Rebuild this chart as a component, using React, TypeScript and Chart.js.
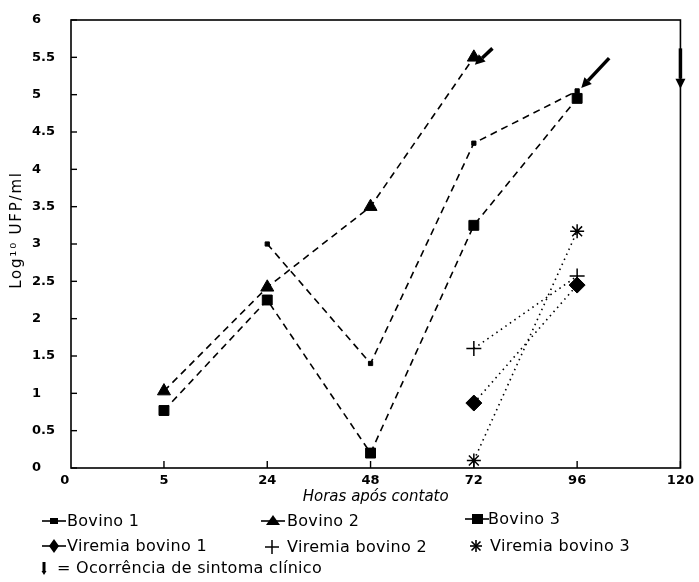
import React, { useEffect, useRef } from 'react';
import { Chart, registerables } from 'chart.js';

Chart.register(...registerables);

// ---- data ----
const HOURS = ['0', '5', '24', '48', '72', '96', '120'];
const BOVINO_1 = [null, null, 3.0, 1.4, 4.35, 5.05, null];
const BOVINO_2 = [null, 1.03, 2.42, 3.5, 5.5, null, null];
const BOVINO_3 = [null, 0.77, 2.25, 0.2, 3.25, 4.95, null];
const VIREMIA_1 = [null, null, null, null, 0.87, 2.45, null];
const VIREMIA_2 = [null, null, null, null, 1.6, 2.57, null];
const VIREMIA_3 = [null, null, null, null, 0.1, 3.17, null];
const Y_MIN = 0;
const Y_MAX = 6;
const Y_STEP = 0.5;
const Y_TITLE = 'Log¹⁰ UFP/ml';
// clinical symptom arrows (hour index, log value): tail -> head
const ARROWS = [
  { from: [4.18, 5.62], to: [4.01, 5.4] },
  { from: [5.31, 5.49], to: [5.04, 5.09] },
  { from: [6, 5.62], to: [6, 5.08] },
];

const FONT = '"DejaVu Sans", sans-serif';

const toPoints = (arr: (number | null)[]) =>
  arr
    .map((v, i) => (v == null ? null : { x: i, y: v }))
    .filter((p) => p !== null) as { x: number; y: number }[];

const framePlugin = {
  id: 'frame',
  afterDraw(chart: any) {
    const { ctx, chartArea: a, scales } = chart;
    const x = scales.x;
    const y = scales.y;
    ctx.save();
    ctx.strokeStyle = '#000';
    ctx.lineWidth = 1.6;
    ctx.strokeRect(a.left, a.top, a.right - a.left, a.bottom - a.top);
    ctx.lineWidth = 1.4;
    x.ticks.forEach((t: any) => {
      const px = x.getPixelForValue(t.value);
      if (px <= a.left + 2) return;
      ctx.beginPath();
      ctx.moveTo(px, a.bottom);
      ctx.lineTo(px, a.bottom - 7);
      ctx.stroke();
    });
    y.ticks.forEach((t: any) => {
      const py = y.getPixelForValue(t.value);
      ctx.beginPath();
      ctx.moveTo(a.left, py);
      ctx.lineTo(a.left + 6, py);
      ctx.stroke();
    });
    // arrows
    ctx.fillStyle = '#000';
    ARROWS.forEach((ar) => {
      const x1 = x.getPixelForValue(ar.from[0]);
      const y1 = y.getPixelForValue(ar.from[1]);
      const x2 = x.getPixelForValue(ar.to[0]);
      const y2 = y.getPixelForValue(ar.to[1]);
      const ang = Math.atan2(y2 - y1, x2 - x1);
      const hl = 10;
      const hw = 5;
      const bx = x2 - hl * Math.cos(ang);
      const by = y2 - hl * Math.sin(ang);
      ctx.lineWidth = 3.5;
      ctx.lineCap = 'butt';
      ctx.beginPath();
      ctx.moveTo(x1, y1);
      ctx.lineTo(bx, by);
      ctx.stroke();
      ctx.beginPath();
      ctx.moveTo(x2, y2);
      ctx.lineTo(bx + hw * Math.sin(ang), by - hw * Math.cos(ang));
      ctx.lineTo(bx - hw * Math.sin(ang), by + hw * Math.cos(ang));
      ctx.closePath();
      ctx.fill();
    });
    // y axis title (letter-spaced, rotated)
    ctx.save();
    ctx.translate(17, (a.top + a.bottom) / 2 - 14);
    ctx.rotate(-Math.PI / 2);
    ctx.font = '15px ' + FONT;
    (ctx as any).letterSpacing = '1.8px';
    ctx.textAlign = 'center';
    ctx.textBaseline = 'middle';
    ctx.fillText(Y_TITLE, 0, 0);
    ctx.restore();
    ctx.restore();
  },
};

function Icon({ kind }: { kind: string }) {
  const line = <line x1="0" y1="8" x2="24" y2="8" stroke="#000" strokeWidth="1.6" />;
  if (kind === 'b1')
    return (
      <svg width="24" height="16">
        {line}
        <rect x="8" y="5" width="8" height="6" fill="#000" />
      </svg>
    );
  if (kind === 'b2')
    return (
      <svg width="24" height="16">
        {line}
        <polygon points="12,2 19,12 5,12" fill="#000" />
      </svg>
    );
  if (kind === 'b3')
    return (
      <svg width="24" height="16">
        {line}
        <rect x="7" y="3" width="11" height="10" fill="#000" />
      </svg>
    );
  if (kind === 'v1')
    return (
      <svg width="24" height="16">
        {line}
        <polygon points="12,1 17,8 12,15 7,8" fill="#000" />
      </svg>
    );
  if (kind === 'v2')
    return (
      <svg width="24" height="16">
        <line x1="5" y1="8" x2="19" y2="8" stroke="#000" strokeWidth="1.5" />
        <line x1="12" y1="1" x2="12" y2="15" stroke="#000" strokeWidth="1.5" />
      </svg>
    );
  if (kind === 'v3')
    return (
      <svg width="24" height="16">
        <line x1="6" y1="8" x2="18" y2="8" stroke="#000" strokeWidth="1.6" />
        <line x1="12" y1="2" x2="12" y2="14" stroke="#000" strokeWidth="1.6" />
        <line x1="7.5" y1="3.5" x2="16.5" y2="12.5" stroke="#000" strokeWidth="1.6" />
        <line x1="16.5" y1="3.5" x2="7.5" y2="12.5" stroke="#000" strokeWidth="1.6" />
      </svg>
    );
  return (
    <svg width="24" height="16">
      <rect x="10.5" y="2" width="3" height="10" fill="#000" />
      <polygon points="9.5,11 14.5,11 12,15" fill="#000" />
    </svg>
  );
}

const LEGEND = [
  { icon: 'b1', label: 'Bovino 1', ix: 54, tx: 67, y: 521 },
  { icon: 'b2', label: 'Bovino 2', ix: 273, tx: 287, y: 521 },
  { icon: 'b3', label: 'Bovino 3', ix: 477, tx: 488, y: 519 },
  { icon: 'v1', label: 'Viremia bovino 1', ix: 54, tx: 67, y: 546 },
  { icon: 'v2', label: 'Viremia bovino 2', ix: 272, tx: 287, y: 547 },
  { icon: 'v3', label: 'Viremia bovino 3', ix: 476, tx: 490, y: 546 },
  { icon: 'arrow', label: '= Ocorrência de sintoma clínico', ix: 44, tx: 57, y: 568 },
];

export default function App() {
  const ref = useRef<HTMLCanvasElement | null>(null);

  useEffect(() => {
    if (!ref.current) return;
    const dashed = [7, 5];
    const dotted = [1.5, 4];
    const base = {
      borderColor: '#000',
      backgroundColor: '#000',
      pointBackgroundColor: '#000',
      pointBorderColor: '#000',
      borderWidth: 1.6,
      tension: 0,
      fill: false,
    };
    const chart = new Chart(ref.current, {
      type: 'line',
      data: {
        datasets: [
          { ...base, label: 'Bovino 1', data: toPoints(BOVINO_1), borderDash: dashed, pointStyle: 'rect', pointRadius: 3, pointBorderWidth: 1 },
          { ...base, label: 'Bovino 2', data: toPoints(BOVINO_2), borderDash: dashed, pointStyle: 'triangle', pointRadius: 7.5, pointBorderWidth: 1 },
          { ...base, label: 'Bovino 3', data: toPoints(BOVINO_3), borderDash: dashed, pointStyle: 'rect', pointRadius: 7, pointBorderWidth: 1 },
          { ...base, label: 'Viremia bovino 1', data: toPoints(VIREMIA_1), borderDash: dotted, pointStyle: 'rectRot', pointRadius: 8, pointBorderWidth: 1 },
          { ...base, label: 'Viremia bovino 2', data: toPoints(VIREMIA_2), borderDash: dotted, pointStyle: 'cross', pointRadius: 7.5, pointBorderWidth: 1.5 },
          { ...base, label: 'Viremia bovino 3', data: toPoints(VIREMIA_3), borderDash: dotted, pointStyle: 'star', pointRadius: 7, pointBorderWidth: 1.5 },
        ] as any,
      },
      options: {
        animation: false,
        responsive: false,
        layout: { padding: { left: 32, top: 20, right: 14, bottom: 74 } },
        plugins: { legend: { display: false }, tooltip: { enabled: false } },
        scales: {
          x: {
            type: 'linear',
            min: 0.1,
            max: 6,
            afterBuildTicks: (scale: any) => {
              scale.ticks = [0.04, 1, 2, 3, 4, 5, 6].map((v) => ({ value: v }));
            },
            afterFit: (scale: any) => {
              scale.height = 40;
            },
            grid: { display: false, drawTicks: false },
            border: { display: false },
            ticks: {
              padding: 5,
              color: '#000',
              font: { family: FONT, size: 13, weight: 'bold' },
              callback: (v: any) => HOURS[Math.round(Number(v))],
            },
            title: {
              display: true,
              text: 'Horas após contato',
              color: '#000',
              font: { family: FONT, size: 15, style: 'italic' },
              padding: { top: 0, bottom: 2 },
            },
          },
          y: {
            type: 'linear',
            min: Y_MIN,
            max: Y_MAX,
            afterFit: (scale: any) => {
              scale.width = 39;
            },
            grid: { display: false, drawTicks: false },
            border: { display: false },
            ticks: {
              stepSize: Y_STEP,
              padding: 6,
              crossAlign: 'far',
              color: '#000',
              font: { family: FONT, size: 13, weight: 'bold' },
              callback: (v: any) => String(v),
            },
            title: { display: false },
          },
        },
      } as any,
      plugins: [framePlugin],
    });
    return () => chart.destroy();
  }, []);

  return (
    <div style={{ position: 'absolute', left: 0, top: 0, width: 699, height: 582, background: '#fff' }}>
      <canvas ref={ref} width={699} height={582} style={{ width: 699, height: 582, display: 'block' }} />
      {LEGEND.map((it) => (
        <React.Fragment key={it.label}>
          <div style={{ position: 'absolute', left: it.ix - 12, top: it.y - 8, width: 24, height: 16, lineHeight: 0 }}>
            <Icon kind={it.icon} />
          </div>
          <div
            style={{
              position: 'absolute',
              left: it.tx,
              top: it.y - 10,
              height: 20,
              lineHeight: '20px',
              fontFamily: FONT,
              fontSize: 16,
              letterSpacing: '0.3px',
              color: '#000',
              whiteSpace: 'nowrap',
            }}
          >
            {it.label}
          </div>
        </React.Fragment>
      ))}
    </div>
  );
}
